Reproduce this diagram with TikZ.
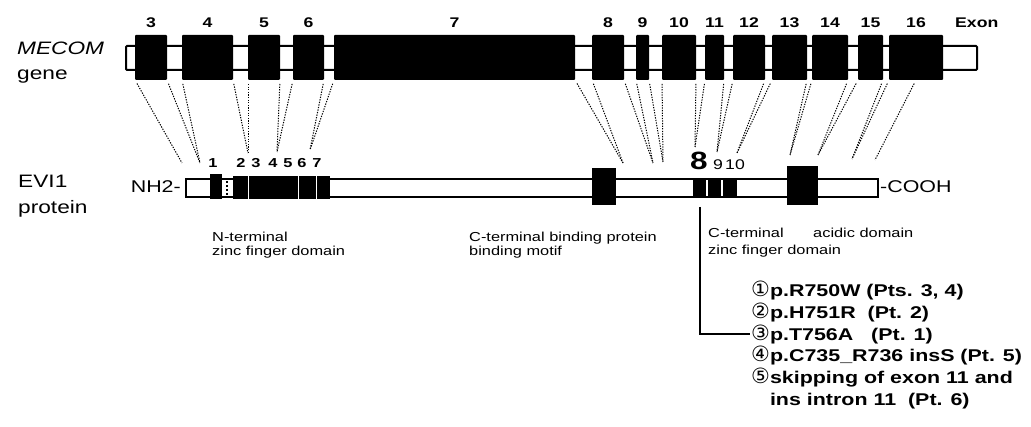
\documentclass[tikz,border=0pt]{standalone}
\usepackage{fontspec}
\setmainfont{Liberation Sans}[FakeStretch=1.26]
\newfontfamily\circfont{DejaVu Sans}

\tikzset{
  exon/.style={fill=black, inner sep=0pt, outer sep=0pt, minimum height=45pt, rounded corners=1pt},
  pbox/.style={fill=black, inner sep=0pt, outer sep=0pt},
  exonlab/.style={font=\fontsize{14}{16}\selectfont\bfseries, inner sep=0pt, anchor=base},
  zfnum/.style={font=\fontsize{13}{15}\selectfont\bfseries, inner sep=0pt, anchor=base},
  bigtxt/.style={font=\fontsize{18}{21}\selectfont, inner sep=0pt, anchor=base west},
  domtxt/.style={font=\fontsize{13}{14}\selectfont, inner sep=0pt, anchor=base west, align=left},
  mut/.style={font=\fontsize{17}{20}\selectfont\bfseries, inner sep=1pt, anchor=base west},
  map/.style={line width=1pt, dash pattern=on 1.3pt off 1.3pt, shorten <=4pt},
}
\newcommand{\circnum}[1]{{\circfont\fontsize{21}{20}\selectfont\mdseries #1}}

\begin{document}
\begin{tikzpicture}[x=1pt, y=-1pt]
\useasboundingbox (0,0) rectangle (1031,427);

    %% MECOM gene

    % Names on the left
    \node[bigtxt] (mecom) at (17,55) {\itshape MECOM};
    \node[bigtxt] (gene) at (17,80) {gene};

    % Backbone
    \draw[line width=2pt, fill=white, rounded corners=1pt] (126,46) rectangle (977,70);

    % Exons 3-16 with their numbers
    \foreach \n/\xa/\xb in {3/135/167, 4/182/233, 5/248/280, 6/293/324, 7/334/575,
        8/592/624, 9/636/649, 10/662/696, 11/705/724, 12/733/765,
        13/772/807, 14/812/848, 15/858/883, 16/889/943}{
      \pgfmathsetmacro\exw{\xb-\xa}
      \pgfmathsetmacro\exc{(\xa+\xb)/2}
      \node[exon, minimum width=\exw pt] (e\n) at (\exc,57.5) {};
      \node[exonlab] (l\n) at (\exc,28) {\n};
    }
    \node[exonlab, anchor=base west] (exlab) at (955,28) {Exon};

    %% EVI1 protein

    % Names on the left
    \node[bigtxt] (evi) at (18,188) {EVI1};
    \node[bigtxt] (prot) at (18,214) {protein};

    % Backbone and ends
    \draw[line width=2pt, fill=white] (186,179) rectangle (878,197);
    \node[bigtxt, font=\fontsize{17}{20}\selectfont, anchor=base east] (nh) at (181,193) {NH2-};
    \node[bigtxt, font=\fontsize{17}{20}\selectfont] (cooh) at (880,193) {-COOH};

    % Domains
    \foreach \d/\xa/\xb/\ya/\yb in {zf1/210/222/174/199, zfb/233/330/176/199,
        ctbp/592/616/168/205, zf8/693/706/178/198, zf9/708/721/178/198,
        zf10/723/737/178/198, acid/787/818/166/205}{
      \pgfmathsetmacro\exw{\xb-\xa}
      \pgfmathsetmacro\exh{\yb-\ya}
      \node[pbox, minimum width=\exw pt, minimum height=\exh pt, anchor=north west] (\d) at (\xa,\ya) {};
    }
    \foreach \xs in {248,298,316}
      \draw[white, line width=0.6pt] (\xs,176) -- (\xs,199);
    \draw[line width=1.2pt, dash pattern=on 2pt off 2pt] (227,181) -- (227,196);

    % Zinc finger numbers
    \foreach \xz/\t in {213/1, 241/2, 256/3, 273/4, 288/5, 302/6, 317/7}
      \node[zfnum] (z\t) at (\xz,168) {\t};
    \node[zfnum, font=\fontsize{25}{28}\selectfont\bfseries] (z8) at (699,170) {8};
    \node[zfnum, font=\fontsize{14}{16}\selectfont] (z9) at (718,170) {9};
    \node[zfnum, font=\fontsize{14}{16}\selectfont] (z10) at (735,170) {10};

    % Domain names (base = last line)
    \node[domtxt] (nzf) at (212,256) {N-terminal\\zinc finger domain};
    \node[domtxt] (ctbpl) at (469,256) {C-terminal binding protein\\binding motif};
    \node[domtxt] (czf) at (708,255) {C-terminal\\[3pt]zinc finger domain};
    \node[domtxt] (acidl) at (813,238) {acidic domain};

    %% Exon boundaries mapped onto the protein
    \coordinate (c1) at (182,163);
    \coordinate (c2) at (200,163);
    \coordinate (c3) at (248,153);
    \coordinate (c4) at (277,152);
    \coordinate (c5) at (310,150);
    \coordinate (c6) at (623,163);
    \coordinate (c7) at (653,163);
    \coordinate (c8) at (663,162);
    \coordinate (c9) at (695,147);
    \coordinate (c10) at (717,152);
    \coordinate (c11) at (737,153);
    \coordinate (c12) at (790,155);
    \coordinate (c13) at (818,155);
    \coordinate (c14) at (852,159);
    \coordinate (c15) at (875,160);
    \foreach \a/\b in {e3.south west/c1, e3.south east/c2, e4.south west/c2,
        e4.south east/c3, e5.south west/c3, e5.south east/c4, e6.south west/c4,
        e6.south east/c5, e7.south west/c5, e7.south east/c6, e8.south west/c6,
        e8.south east/c7, e9.south west/c7, e9.south east/c8, e10.south west/c8,
        e10.south east/c9, e11.south west/c9, e11.south east/c10, e12.south west/c10,
        e12.south east/c11, e13.south west/c11, e13.south east/c12, e14.south west/c12,
        e14.south east/c13, e15.south west/c13, e15.south east/c14, e16.south west/c14,
        e16.south/c15}
      \draw[map] (\a) -- (\b);

    %% Mutations in zinc finger 8
    \node[mut] (m1) at (750,297) {\circnum{①}p.R750W (Pts. 3, 4)};
    \node[mut] (m2) at (750,318.7) {\circnum{②}p.H751R\ \ (Pt. 2)};
    \node[mut] (m3) at (750,340.4) {\circnum{③}p.T756A\ \ \ (Pt. 1)};
    \node[mut] (m4) at (750,362) {\circnum{④}p.C735\_R736 insS (Pt. 5)};
    \node[mut] (m5) at (750,383.8) {\circnum{⑤}skipping of exon 11 and};
    \node[mut] (m6) at (750,405.5) {\phantom{\circnum{⑤}}ins intron 11\ \ (Pt. 6)};
    \draw[line width=2pt, shorten <=9pt] (zf8.south) |- (m3.west);

\end{tikzpicture}
\end{document}
